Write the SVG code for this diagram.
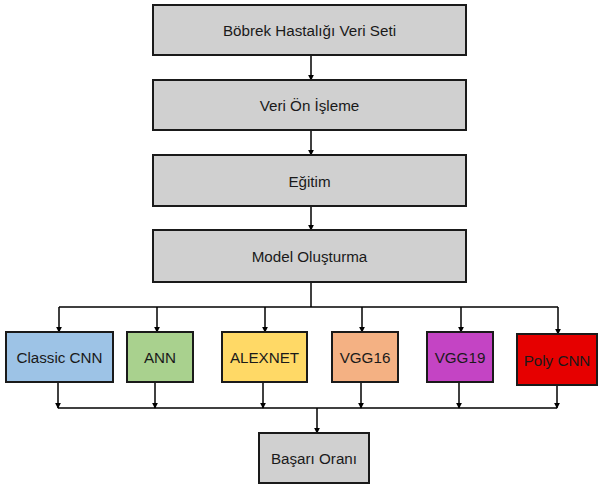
<svg xmlns="http://www.w3.org/2000/svg" width="598" height="488" viewBox="0 0 598 488">
<defs>
<marker id="ah" viewBox="0 0 8 8" refX="7" refY="4" markerWidth="6" markerHeight="6" markerUnits="userSpaceOnUse" orient="auto">
<path d="M0,0 L8,4 L0,8 z" fill="#000"/>
</marker>
<style>
.box{stroke:#1a1a1a;stroke-width:2}
.gray{fill:#d0d0d0}
.lbl{font-family:"Liberation Sans",Arial,sans-serif;font-size:15.2px;fill:#1a1a1a;text-anchor:middle;dominant-baseline:central}
.c{fill:none;stroke:#000;stroke-width:1.5}
</style>
</defs>
<rect width="598" height="488" fill="#fff"/>
<g id="connectors">
<path class="c" d="M311,55 V80" marker-end="url(#ah)"/>
<path class="c" d="M311,130 V155" marker-end="url(#ah)"/>
<path class="c" d="M311,206 V230" marker-end="url(#ah)"/>
<path class="c" d="M311,282 V307"/>
<path class="c" d="M59,307 H558"/>
<path class="c" d="M59,307 V332" marker-end="url(#ah)"/>
<path class="c" d="M157,307 V332" marker-end="url(#ah)"/>
<path class="c" d="M265,307 V332" marker-end="url(#ah)"/>
<path class="c" d="M362,307 V332" marker-end="url(#ah)"/>
<path class="c" d="M461,307 V332" marker-end="url(#ah)"/>
<path class="c" d="M558,307 V334" marker-end="url(#ah)"/>
<path class="c" d="M58,382 V408" marker-end="url(#ah)"/>
<path class="c" d="M155,382 V408" marker-end="url(#ah)"/>
<path class="c" d="M263,382 V408" marker-end="url(#ah)"/>
<path class="c" d="M361,382 V408" marker-end="url(#ah)"/>
<path class="c" d="M459,382 V408" marker-end="url(#ah)"/>
<path class="c" d="M557,385 V408" marker-end="url(#ah)"/>
<path class="c" d="M58,408 H557"/>
<path class="c" d="M317,408 V433" marker-end="url(#ah)"/>
</g>
<g id="n1"><rect class="box gray" x="153" y="5" width="313" height="50"/><text class="lbl" x="309.5" y="30">Böbrek Hastalığı Veri Seti</text></g>
<g id="n2"><rect class="box gray" x="153" y="80" width="313" height="50"/><text class="lbl" x="309.5" y="105">Veri Ön İşleme</text></g>
<g id="n3"><rect class="box gray" x="153" y="155" width="313" height="51"/><text class="lbl" x="309.5" y="181">Eğitim</text></g>
<g id="n4"><rect class="box gray" x="153" y="230" width="313" height="52"/><text class="lbl" x="309.5" y="256">Model Oluşturma</text></g>
<g id="classic"><rect class="box" fill="#9dc3e6" x="6" y="332" width="107" height="50"/><text class="lbl" x="59.5" y="357">Classic CNN</text></g>
<g id="ann"><rect class="box" fill="#a9d18e" x="127" y="332" width="66" height="50"/><text class="lbl" x="160" y="357">ANN</text></g>
<g id="alexnet"><rect class="box" fill="#ffd966" x="222" y="332" width="85" height="50"/><text class="lbl" x="264.5" y="357">ALEXNET</text></g>
<g id="vgg16"><rect class="box" fill="#f4b183" x="332" y="332" width="66" height="50"/><text class="lbl" x="365" y="357">VGG16</text></g>
<g id="vgg19"><rect class="box" fill="#c444c4" x="427" y="332" width="66" height="50"/><text class="lbl" x="460" y="357">VGG19</text></g>
<g id="poly"><rect class="box" fill="#e60000" x="517" y="334" width="80" height="51"/><text class="lbl" x="557" y="360">Poly CNN</text></g>
<g id="basari"><rect class="box gray" x="259" y="433" width="110" height="50"/><text class="lbl" x="314" y="458">Başarı Oranı</text></g>
</svg>
